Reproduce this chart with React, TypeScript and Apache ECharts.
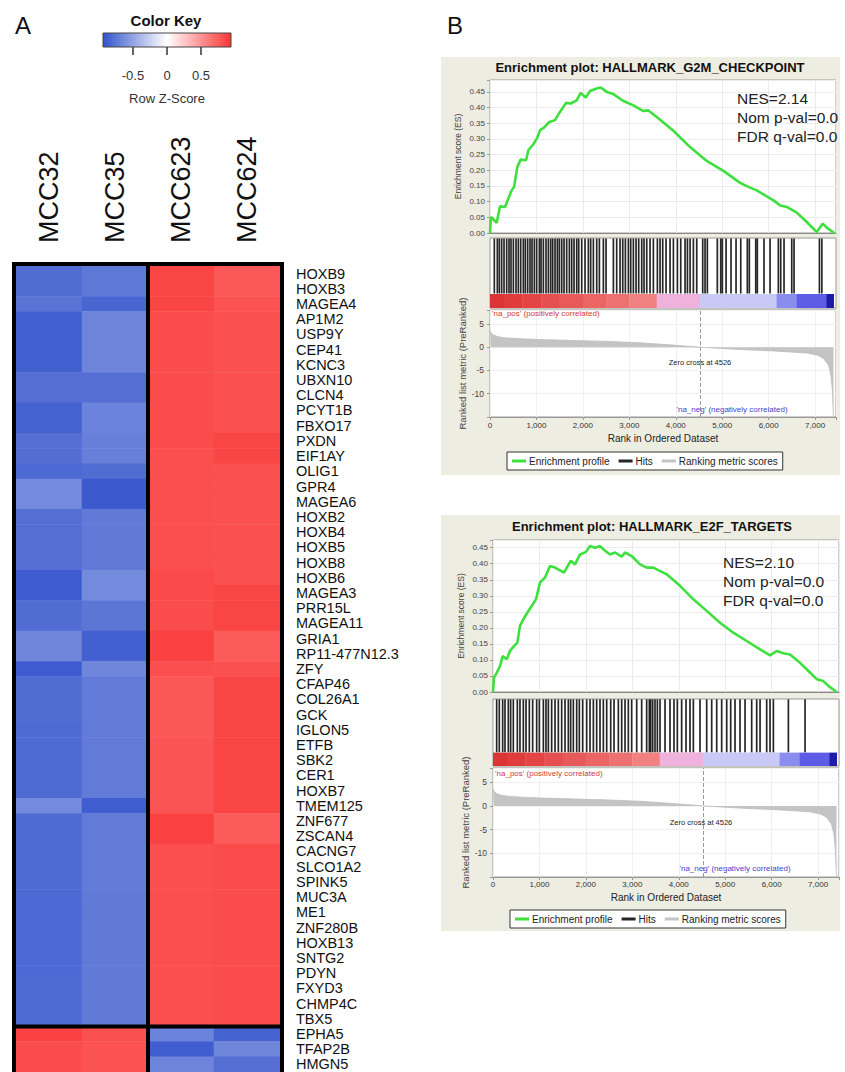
import React, { useEffect, useRef } from "react";
import * as echarts from "echarts";

// ---------------- Heatmap data (Row Z-score) ----------------
const samples = ["MCC32", "MCC35", "MCC623", "MCC624"];
const genes = [
  "HOXB9", "HOXB3", "MAGEA4", "AP1M2", "USP9Y", "CEP41", "KCNC3", "UBXN10", "CLCN4", "PCYT1B",
  "FBXO17", "PXDN", "EIF1AY", "OLIG1", "GPR4", "MAGEA6", "HOXB2", "HOXB4", "HOXB5", "HOXB8",
  "HOXB6", "MAGEA3", "PRR15L", "MAGEA11", "GRIA1", "RP11-477N12.3", "ZFY", "CFAP46", "COL26A1", "GCK",
  "IGLON5", "ETFB", "SBK2", "CER1", "HOXB7", "TMEM125", "ZNF677", "ZSCAN4", "CACNG7", "SLCO1A2",
  "SPINK5", "MUC3A", "ME1", "ZNF280B", "HOXB13", "SNTG2", "PDYN", "FXYD3", "CHMP4C", "TBX5",
  "EPHA5", "TFAP2B", "HMGN5",
];
const zMCC32 = [
  -0.80, -0.80, -0.76, -0.87, -0.87, -0.87, -0.87, -0.79, -0.79, -0.86,
  -0.86, -0.79, -0.79, -0.82, -0.64, -0.64, -0.79, -0.79, -0.79, -0.79,
  -0.89, -0.89, -0.80, -0.80, -0.66, -0.66, -0.89, -0.80, -0.80, -0.80,
  -0.81, -0.81, -0.81, -0.81, -0.81, -0.64, -0.81, -0.81, -0.81, -0.81,
  -0.81, -0.82, -0.82, -0.82, -0.82, -0.82, -0.82, -0.81, -0.81, -0.81,
  0.88, 0.83, 0.83,
];
const zMCC35 = [
  -0.74, -0.74, -0.84, -0.67, -0.67, -0.67, -0.67, -0.79, -0.79, -0.68,
  -0.68, -0.70, -0.70, -0.80, -0.90, -0.90, -0.73, -0.73, -0.73, -0.73,
  -0.64, -0.64, -0.75, -0.75, -0.87, -0.87, -0.66, -0.72, -0.72, -0.72,
  -0.72, -0.72, -0.72, -0.72, -0.72, -0.88, -0.72, -0.72, -0.72, -0.72,
  -0.72, -0.73, -0.73, -0.73, -0.73, -0.73, -0.73, -0.73, -0.73, -0.73,
  0.81, 0.80, 0.80,
];
const zMCC623 = [
  0.86, 0.86, 0.86, 0.83, 0.83, 0.83, 0.83, 0.83, 0.83, 0.83,
  0.83, 0.83, 0.82, 0.82, 0.82, 0.82, 0.82, 0.82, 0.82, 0.82,
  0.84, 0.84, 0.83, 0.83, 0.88, 0.88, 0.82, 0.78, 0.78, 0.78,
  0.78, 0.79, 0.79, 0.79, 0.79, 0.79, 0.88, 0.88, 0.82, 0.82,
  0.82, 0.82, 0.82, 0.82, 0.82, 0.82, 0.82, 0.82, 0.82, 0.82,
  -0.68, -0.88, -0.67,
];
const zMCC624 = [
  0.77, 0.77, 0.80, 0.81, 0.81, 0.81, 0.81, 0.81, 0.81, 0.81,
  0.81, 0.86, 0.86, 0.81, 0.81, 0.81, 0.81, 0.81, 0.81, 0.81,
  0.81, 0.86, 0.86, 0.86, 0.76, 0.76, 0.81, 0.86, 0.86, 0.86,
  0.86, 0.86, 0.86, 0.86, 0.86, 0.86, 0.76, 0.76, 0.83, 0.83,
  0.83, 0.83, 0.83, 0.83, 0.83, 0.83, 0.83, 0.83, 0.83, 0.83,
  -0.86, -0.66, -0.79,
];
const sampleGroupBreaks = [1]; // separator after MCC35
const geneGroupBreaks = [49]; // separator after TBX5
const zMin = -0.94;
const zMax = 0.94;
const colorKeyTicks = [-0.5, 0, 0.5];

// ---------------- GSEA data ----------------
const g2mRank = [0, 22, 144, 215, 323, 395, 467, 517, 589, 660, 775, 826, 933, 1020, 1077, 1163, 1278, 1400, 1493, 1637, 1738, 1867, 1953, 2061, 2154, 2298, 2384, 2513, 2657, 2872, 3087, 3303, 3411, 3590, 3949, 4308, 4667, 5026, 5385, 5565, 5744, 6103, 6247, 6390, 6606, 6821, 7036, 7166, 7252, 7410];
const g2mES = [0, 0.051, 0.032, 0.085, 0.083, 0.11, 0.136, 0.147, 0.211, 0.234, 0.232, 0.264, 0.283, 0.304, 0.328, 0.336, 0.354, 0.36, 0.383, 0.415, 0.413, 0.423, 0.447, 0.432, 0.453, 0.461, 0.464, 0.45, 0.443, 0.421, 0.407, 0.389, 0.391, 0.37, 0.326, 0.274, 0.23, 0.198, 0.16, 0.147, 0.136, 0.104, 0.088, 0.083, 0.065, 0.035, 0.003, 0.03, 0.017, 0];
const e2fRank = [0, 22, 79, 151, 208, 294, 366, 452, 524, 581, 653, 739, 833, 926, 1012, 1120, 1227, 1335, 1529, 1672, 1766, 1873, 2003, 2089, 2196, 2304, 2376, 2519, 2627, 2771, 2843, 2986, 3165, 3309, 3453, 3740, 4027, 4314, 4601, 4888, 5175, 5462, 5750, 5965, 6108, 6252, 6396, 6611, 6754, 6970, 7113, 7221, 7400];
const e2fES = [0, 0.045, 0.06, 0.081, 0.112, 0.102, 0.128, 0.143, 0.154, 0.206, 0.227, 0.247, 0.268, 0.289, 0.341, 0.357, 0.393, 0.388, 0.372, 0.409, 0.398, 0.429, 0.437, 0.455, 0.45, 0.455, 0.445, 0.429, 0.435, 0.422, 0.435, 0.424, 0.398, 0.388, 0.388, 0.367, 0.331, 0.289, 0.253, 0.216, 0.185, 0.159, 0.133, 0.114, 0.128, 0.121, 0.117, 0.091, 0.071, 0.04, 0.034, 0.019, 0];
const g2mHits = [93, 158, 201, 251, 302, 359, 409, 452, 503, 560, 610, 661, 718, 761, 811, 862, 905, 955, 1005, 1063, 1099, 1149, 1206, 1257, 1307, 1350, 1400, 1450, 1493, 1544, 1594, 1651, 1709, 1759, 1809, 1867, 1910, 1975, 2046, 2118, 2168, 2226, 2298, 2355, 2441, 2499, 2657, 2728, 2800, 2858, 2915, 2980, 3030, 3087, 3145, 3202, 3267, 3317, 3375, 3446, 3518, 3604, 3662, 3719, 3791, 3877, 3949, 4035, 4107, 4200, 4251, 4308, 4379, 4451, 4580, 4630, 4680, 4895, 4968, 5003, 5083, 5190, 5298, 5399, 5541, 5584, 5722, 5756, 5900, 6030, 6209, 6260, 6331, 6497, 6547, 7093, 7145];
const e2fHits = [79, 136, 208, 258, 330, 380, 438, 524, 581, 653, 711, 782, 854, 940, 998, 1084, 1141, 1192, 1263, 1335, 1407, 1479, 1551, 1622, 1672, 1730, 1802, 1859, 1931, 2017, 2089, 2161, 2232, 2304, 2376, 2448, 2534, 2606, 2699, 2771, 2843, 2914, 2986, 3094, 3201, 3309, 3366, 3395, 3438, 3488, 3539, 3596, 3704, 3811, 3897, 3969, 4062, 4156, 4242, 4314, 4457, 4601, 4709, 4817, 4924, 5032, 5118, 5211, 5319, 5427, 5570, 5678, 5750, 5893, 5965, 6037, 6360, 6719];
const metricRank = [0, 14, 72, 200, 359, 700, 1077, 1795, 2513, 3231, 3949, 4526, 5385, 6103, 6821, 7050, 7180, 7288, 7340, 7370, 7395];
const metricValue = [3.6, 3.2, 2.6, 2.2, 2.0, 1.8, 1.65, 1.45, 1.25, 0.95, 0.45, 0, -0.5, -0.8, -1.25, -1.7, -2.4, -3.8, -6.0, -9.0, -14.8];
const barStart = [0, 300, 700, 1100, 1500, 2000, 2500, 3000, 3590, 4520, 6170, 6600, 7240];
const barEnd = [300, 700, 1100, 1500, 2000, 2500, 3000, 3590, 4520, 6170, 6600, 7240, 7400];
const barColors = ["#dc3434", "#e03c3c", "#e34545", "#e64f4f", "#e85a5a", "#eb6565", "#ee7171", "#f18080", "#eeb2dc", "#c9c9f5", "#8a8cee", "#5c5ce6", "#1c1ca8"];
const zeroCross = 4526;
const rankMax = 7450;
const panelTitles = ["Enrichment plot: HALLMARK_G2M_CHECKPOINT", "Enrichment plot: HALLMARK_E2F_TARGETS"];
const panelStats = [
  ["NES=2.14", "Nom p-val=0.0", "FDR q-val=0.0"],
  ["NES=2.10", "Nom p-val=0.0", "FDR q-val=0.0"],
];

const FONT = '"Liberation Sans", Arial, Helvetica, sans-serif';
const zColors = ["#3353cc", "#ffffff", "#fa3434"];

function txt(x: number, y: number, text: string, size: number, opts: any = {}) {
  const align = opts.align || "center";
  return {
    type: "text",
    x,
    y,
    z: 50,
    silent: true,
    rotation: opts.rotation || 0,
    style: {
      text,
      fontSize: size,
      fontFamily: FONT,
      fontWeight: opts.bold ? "bold" : "normal",
      fill: opts.color || "#111",
      align,
      textAlign: align,
      verticalAlign: "middle",
      textVerticalAlign: "middle",
    },
  };
}

function buildOption() {
  const zCols = [zMCC32, zMCC35, zMCC623, zMCC624];
  const heatData: number[][] = [];
  genes.forEach((_, gi) => {
    samples.forEach((_, si) => heatData.push([si, gi, zCols[si][gi]]));
  });

  const panels = [
    { left: 490, esTop: 80, esH: 153, esMax: 0.488, midTop: 238, midH: 70, mTop: 310, mH: 107, rank: g2mRank, es: g2mES, hits: g2mHits, bg: [441, 57, 399, 418], titleX: 650, titleY: 67, statX: 737, statY: 98, posY: 313, posX: 492, zcX: 700, zcY: 362, negX: 732, negY: 409, legendLeft: 507, legendTop: 452, xLabelMargin: 4, xNameGap: 16 },
    { left: 493, esTop: 540, esH: 152, esMax: 0.474, midTop: 699, midH: 67, mTop: 768, mH: 109, rank: e2fRank, es: e2fES, hits: e2fHits, bg: [441, 515, 399, 416], titleX: 652, titleY: 526, statX: 723, statY: 562, posY: 773, posX: 495, zcX: 701, zcY: 822, negX: 735, negY: 868, legendLeft: 510, legendTop: 910, xLabelMargin: 3, xNameGap: 15 },
  ];

  const grid: any[] = [
    { left: 103, top: 33, width: 128, height: 14 },
    { left: 16, top: 266, width: 264, height: 808 },
  ];
  const xAxis: any[] = [
    {
      gridIndex: 0, type: "value", min: zMin, max: zMax,
      axisLine: { show: false },
      splitLine: { show: false },
      axisTick: { show: true, customValues: colorKeyTicks, length: 8, lineStyle: { color: "#333", width: 1.5 } },
      axisLabel: { show: true, customValues: colorKeyTicks, margin: 22, fontSize: 13, color: "#333", fontFamily: FONT, formatter: (v: number) => String(v) },
      name: "Row Z-Score", nameLocation: "middle", nameGap: 45,
      nameTextStyle: { fontSize: 13, color: "#333", fontFamily: FONT },
    },
    {
      gridIndex: 1, type: "category", data: samples, position: "top",
      axisLine: { show: false }, axisTick: { show: false }, splitLine: { show: false },
      axisLabel: { rotate: -90, fontSize: 27, margin: 23, color: "#111", fontFamily: FONT, interval: 0 },
    },
  ];
  const yAxis: any[] = [
    { gridIndex: 0, type: "value", min: 0, max: 1, show: false },
    {
      gridIndex: 1, type: "category", data: genes, inverse: true, position: "right",
      axisLine: { show: false }, axisTick: { show: false }, splitLine: { show: false },
      axisLabel: { fontSize: 14.5, margin: 16, color: "#111", fontFamily: FONT, interval: 0 },
    },
  ];

  const series: any[] = [
    {
      type: "custom", name: "colorKey", xAxisIndex: 0, yAxisIndex: 0, silent: true,
      data: [[zMin, zMax]],
      renderItem: (params: any, api: any) => {
        const a = api.coord([api.value(0), 1]);
        const b = api.coord([api.value(1), 0]);
        return {
          type: "rect",
          shape: { x: a[0], y: a[1], width: b[0] - a[0], height: b[1] - a[1] },
          style: {
            fill: new echarts.graphic.LinearGradient(0, 0, 1, 0, [
              { offset: 0, color: zColors[0] },
              { offset: 0.5, color: zColors[1] },
              { offset: 1, color: zColors[2] },
            ]),
            stroke: "#444",
            lineWidth: 1,
          },
        };
      },
    },
    {
      type: "heatmap", name: "heatmap", xAxisIndex: 1, yAxisIndex: 1, data: heatData,
      itemStyle: { borderWidth: 0 }, emphasis: { disabled: true }, silent: true,
    },
    {
      type: "custom", name: "separators", xAxisIndex: 1, yAxisIndex: 1, silent: true, z: 5,
      data: [[0, 0], ...sampleGroupBreaks.map((i) => [1, i]), ...geneGroupBreaks.map((i) => [2, i])],
      renderItem: (params: any, api: any) => {
        const cs = params.coordSys;
        const t = api.value(0);
        const i = api.value(1);
        if (t === 0) {
          return { type: "rect", shape: { x: cs.x - 2, y: cs.y - 2, width: cs.width + 4, height: cs.height + 4 }, style: { fill: "none", stroke: "#000", lineWidth: 4 } };
        }
        if (t === 1) {
          const a = api.coord([i, 0]);
          const b = api.coord([i + 1, 0]);
          const x = (a[0] + b[0]) / 2;
          return { type: "rect", shape: { x: x - 2, y: cs.y, width: 4, height: cs.height }, style: { fill: "#000" } };
        }
        const a = api.coord([0, i]);
        const b = api.coord([0, i + 1]);
        const y = (a[1] + b[1]) / 2;
        return { type: "rect", shape: { x: cs.x, y: y - 2, width: cs.width, height: 4 }, style: { fill: "#000" } };
      },
    },
  ];

  const graphic: any[] = [
    txt(23, 25, "A", 24),
    txt(455, 25, "B", 24),
    txt(166, 20, "Color Key", 15, { bold: true }),
  ];
  const legend: any[] = [];

  panels.forEach((p, pi) => {
    const gES = grid.length;
    grid.push({ left: p.left, top: p.esTop, width: 346, height: p.esH, show: true, backgroundColor: "#fff", borderColor: "#9a9a9a", borderWidth: 1 });
    grid.push({ left: p.left, top: p.midTop, width: 346, height: p.midH, show: true, backgroundColor: "#fff", borderColor: "#9a9a9a", borderWidth: 1 });
    grid.push({ left: p.left, top: p.mTop, width: 346, height: p.mH, show: true, backgroundColor: "#fff", borderColor: "#9a9a9a", borderWidth: 1 });
    const gMid = gES + 1;
    const gM = gES + 2;

    const rankFmt = (v: number) => (v % 1000 === 0 ? v.toLocaleString("en-US") : "");
    xAxis.push({
      gridIndex: gES, type: "value", min: 0, max: rankMax, interval: 1000,
      axisLabel: { show: false }, axisTick: { show: false },
      axisLine: { show: true, onZero: false, lineStyle: { color: "#888" } },
      splitLine: { show: true, lineStyle: { color: "#ececec" } },
    });
    yAxis.push({
      gridIndex: gES, type: "value", min: 0, max: p.esMax, interval: 0.05,
      name: "Enrichment score (ES)", nameLocation: "middle", nameGap: 28,
      nameTextStyle: { fontSize: 8.5, color: "#444", fontFamily: FONT },
      axisLabel: { fontSize: 8, color: "#444", margin: 5, fontFamily: FONT, formatter: (v: number) => (Math.abs(v * 20 - Math.round(v * 20)) < 1e-6 ? v.toFixed(2) : "") },
      axisTick: { show: true, length: 3, lineStyle: { color: "#999" } },
      axisLine: { show: false },
      splitLine: { show: true, lineStyle: { color: "#ececec" } },
    });
    xAxis.push({ gridIndex: gMid, type: "value", min: 0, max: rankMax, show: false });
    yAxis.push({ gridIndex: gMid, type: "value", min: 0, max: 1, show: false });
    xAxis.push({
      gridIndex: gM, type: "value", min: 0, max: rankMax, interval: 1000,
      axisLabel: { fontSize: 8, color: "#333", margin: p.xLabelMargin, fontFamily: FONT, formatter: rankFmt },
      axisTick: { show: true, length: 3, lineStyle: { color: "#999" } },
      axisLine: { show: true, onZero: false, lineStyle: { color: "#999" } },
      splitLine: { show: true, lineStyle: { color: "#f0f0f0" } },
      name: "Rank in Ordered Dataset", nameLocation: "middle", nameGap: p.xNameGap,
      nameTextStyle: { fontSize: 10, color: "#222", fontFamily: FONT },
    });
    yAxis.push({
      gridIndex: gM, type: "value", min: -15, max: 8, interval: 5,
      name: "Ranked list metric (PreRanked)", nameLocation: "middle", nameGap: 22,
      nameTextStyle: { fontSize: 9.5, color: "#444", fontFamily: FONT },
      axisLabel: { fontSize: 8.5, color: "#444", margin: 6, fontFamily: FONT, formatter: (v: number) => (v % 5 === 0 && v > -15 ? String(v) : "") },
      axisTick: { show: true, length: 3, lineStyle: { color: "#999" } },
      axisLine: { show: false },
      splitLine: { show: true, lineStyle: { color: "#f0f0f0" } },
    });

    series.push({
      type: "line", name: "Enrichment profile", xAxisIndex: gES, yAxisIndex: gES,
      data: p.rank.map((r, i) => [r, p.es[i]]), symbol: "none", silent: true, z: 4,
      lineStyle: { color: "#3ee03e", width: 2.6 }, itemStyle: { color: "#3ee03e" },
    });
    series.push({
      type: "custom", name: "rankColorBar", xAxisIndex: gMid, yAxisIndex: gMid, silent: true,
      data: barStart.map((s, i) => [s, barEnd[i]]),
      renderItem: (params: any, api: any) => {
        const a = api.coord([api.value(0), 0.2]);
        const b = api.coord([api.value(1), 0]);
        return { type: "rect", shape: { x: a[0], y: a[1], width: b[0] - a[0] + 0.3, height: b[1] - a[1] }, style: { fill: barColors[params.dataIndex] } };
      },
    });
    series.push({
      type: "scatter", name: "Hits", xAxisIndex: gMid, yAxisIndex: gMid, silent: true,
      data: p.hits.map((r) => [r, 0.6]), symbol: "rect", symbolSize: [1.7, Math.round(p.midH * 0.8) - 1],
      itemStyle: { color: "#000", opacity: 0.85 },
    });
    series.push({
      type: "line", name: "Ranking metric scores", xAxisIndex: gM, yAxisIndex: gM, silent: true,
      data: metricRank.map((r, i) => [r, metricValue[i]]), symbol: "none",
      lineStyle: { color: "#bdbdbd", width: 0.8 }, areaStyle: { color: "#c4c4c4", opacity: 1 },
      itemStyle: { color: "#c4c4c4" },
      markLine: {
        silent: true, symbol: ["none", "none"], label: { show: false },
        lineStyle: { type: "dashed", color: "#999", width: 1 },
        data: [{ xAxis: zeroCross }],
      },
    });

    legend.push({
      left: p.legendLeft, top: p.legendTop, orient: "horizontal", selectedMode: false,
      data: ["Enrichment profile", "Hits", "Ranking metric scores"],
      icon: "rect", itemWidth: 14, itemHeight: 3, itemGap: 9,
      backgroundColor: "#fff", borderColor: "#333", borderWidth: 1, padding: [4, 5],
      textStyle: { fontSize: 10, color: "#222", fontFamily: FONT, padding: [0, 0, 0, -2] },
    });

    const [bx, by, bw, bh] = p.bg;
    graphic.push({ type: "rect", z: -100, silent: true, shape: { x: bx, y: by, width: bw, height: bh }, style: { fill: "#eeede2" } });
    graphic.push(txt(p.titleX, p.titleY, panelTitles[pi], 13, { bold: true }));
    panelStats[pi].forEach((s, k) => graphic.push(txt(p.statX, p.statY + k * 19, s, 15.5, { align: "left", color: "#222" })));
    graphic.push(txt(p.posX, p.posY, "'na_pos' (positively correlated)", 8, { align: "left", color: "#d03a3a" }));
    graphic.push(txt(p.zcX, p.zcY, "Zero cross at " + zeroCross, 7.5, { color: "#222" }));
    graphic.push(txt(p.negX, p.negY, "'na_neg' (negatively correlated)", 8, { color: "#4444cc" }));
  });

  return {
    animation: false,
    backgroundColor: "#ffffff",
    textStyle: { fontFamily: FONT },
    grid,
    xAxis,
    yAxis,
    visualMap: {
      type: "continuous", show: false, min: zMin, max: zMax, dimension: 2, seriesIndex: 1,
      inRange: { color: zColors },
    },
    legend,
    graphic,
    series,
  };
}

export default function App() {
  const ref = useRef<HTMLDivElement>(null);
  useEffect(() => {
    if (!ref.current) return;
    const chart = echarts.init(ref.current, null, { renderer: "svg" });
    chart.setOption(buildOption() as any);
    return () => chart.dispose();
  }, []);
  return <div ref={ref} style={{ position: "absolute", left: 0, top: 0, width: 845, height: 1072 }} />;
}
